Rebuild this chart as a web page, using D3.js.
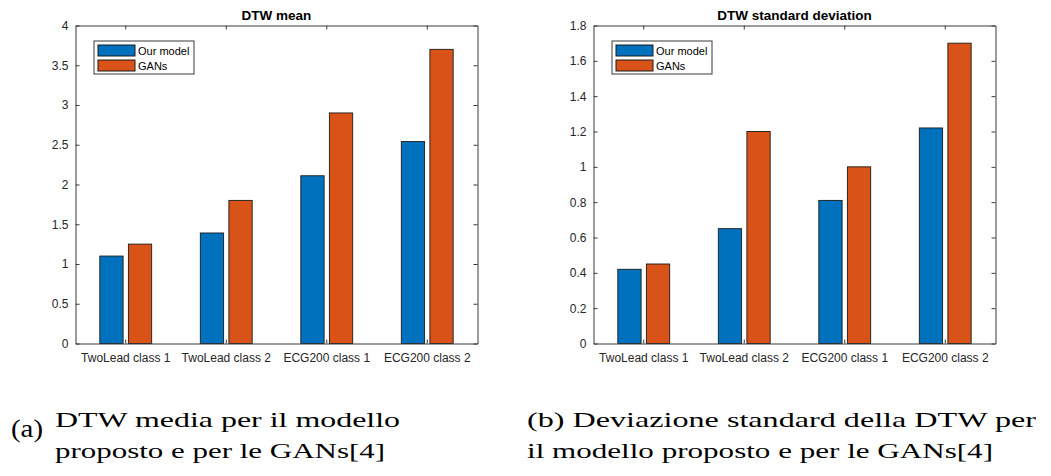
<!DOCTYPE html>
<html>
<head>
<meta charset="utf-8">
<script src="https://cdn.jsdelivr.net/npm/d3@7"></script>
<style>
  html, body { margin: 0; padding: 0; background: #fff; }
  svg { display: block; }
</style>
</head>
<body>
<svg id="fig" width="1051" height="476"></svg>
<script>
// Datasets and series shown in both panels
const categories = ["TwoLead class 1", "TwoLead class 2", "ECG200 class 1", "ECG200 class 2"];
const seriesNames = ["Our model", "GANs"];
const seriesColors = ["#0072BD", "#D95319"];

// Panel (a): mean DTW distance
const meanOurModel = [1.10, 1.39, 2.11, 2.54];
const meanGANs = [1.25, 1.80, 2.90, 3.70];
const meanTicks = [0, 0.5, 1, 1.5, 2, 2.5, 3, 3.5, 4];

// Panel (b): standard deviation of DTW distance
const stdOurModel = [0.42, 0.65, 0.81, 1.22];
const stdGANs = [0.45, 1.20, 1.00, 1.70];
const stdTicks = [0, 0.2, 0.4, 0.6, 0.8, 1, 1.2, 1.4, 1.6, 1.8];

const svg = d3.select("#fig");
const axisColor = "#3a3a3a";
const textColor = "#262626";
const sans = "'Liberation Sans', Arial, Helvetica, sans-serif";
const serif = "'Liberation Serif', 'DejaVu Serif', serif";

function drawPanel(opts) {
  const { left, right, top, bottom, title, values, yMax, ticks } = opts;
  const g = svg.append("g");

  const x = d3.scaleBand().domain(categories).range([left, right]).paddingInner(0).paddingOuter(0);
  const groupW = x.bandwidth() * 0.516;
  const xs = d3.scaleBand().domain(seriesNames).range([-groupW / 2, groupW / 2]).paddingInner(0.185).paddingOuter(0);
  const y = d3.scaleLinear().domain([0, yMax]).range([bottom, top]);

  const rows = categories.map((c, i) => ({ cat: c, vals: seriesNames.map((s, k) => ({ s, k, v: values[k][i] })) }));

  // bars
  g.selectAll("g.grp").data(rows).join("g")
    .attr("class", "grp")
    .attr("transform", d => `translate(${x(d.cat) + x.bandwidth() / 2},0)`)
    .selectAll("rect").data(d => d.vals).join("rect")
    .attr("x", d => xs(d.s))
    .attr("width", xs.bandwidth())
    .attr("y", d => y(d.v))
    .attr("height", d => y(0) - y(d.v))
    .attr("fill", d => seriesColors[d.k])
    .attr("stroke", "#1a1a1a")
    .attr("stroke-width", 0.9);

  // axes (box on, ticks pointing inward)
  const tickLen = 4;
  const axB = d3.axisBottom(x).tickSizeInner(-tickLen).tickSizeOuter(0).tickPadding(10);
  const axT = d3.axisTop(x).tickSizeInner(-tickLen).tickSizeOuter(0).tickFormat("");
  const axL = d3.axisLeft(y).tickValues(ticks).tickSizeInner(-tickLen).tickSizeOuter(0).tickPadding(7).tickFormat(d3.format("~g"));
  const axR = d3.axisRight(y).tickValues(ticks).tickSizeInner(-tickLen).tickSizeOuter(0).tickFormat("");

  const styleAxis = sel => {
    sel.selectAll("path.domain").attr("stroke", axisColor);
    sel.selectAll(".tick line").attr("stroke", axisColor);
    sel.selectAll(".tick text").attr("fill", textColor).style("font-family", sans).style("font-size", "12px");
  };
  g.append("g").attr("transform", `translate(0,${bottom})`).call(axB).call(styleAxis);
  g.append("g").attr("transform", `translate(0,${top})`).call(axT).call(styleAxis);
  g.append("g").attr("transform", `translate(${left},0)`).call(axL).call(styleAxis);
  g.append("g").attr("transform", `translate(${right},0)`).call(axR).call(styleAxis);

  // title
  g.append("text")
    .attr("x", (left + right) / 2).attr("y", 19.5)
    .attr("text-anchor", "middle")
    .style("font-family", sans).style("font-size", "13.5px").style("font-weight", "bold")
    .attr("fill", "#000")
    .text(title);

  // legend
  const lx = left + 18.5, ly = top + 15.5;
  const lg = g.append("g").attr("transform", `translate(${lx},${ly})`);
  lg.append("rect").attr("x", 0).attr("y", 0).attr("width", 100).attr("height", 33)
    .attr("fill", "#fff").attr("stroke", axisColor).attr("stroke-width", 1);
  seriesNames.forEach((s, k) => {
    lg.append("rect").attr("x", 4).attr("y", 4 + k * 15).attr("width", 37).attr("height", 11)
      .attr("fill", seriesColors[k]).attr("stroke", "#1a1a1a").attr("stroke-width", 1);
    lg.append("text").attr("x", 44).attr("y", 14 + k * 15)
      .style("font-family", sans).style("font-size", "11px").attr("fill", "#000")
      .text(s);
  });
}

drawPanel({ left: 75.5, right: 477.5, top: 25.5, bottom: 343.5, title: "DTW mean",
  values: [meanOurModel, meanGANs], yMax: 4, ticks: meanTicks });
drawPanel({ left: 593.5, right: 995.5, top: 25.5, bottom: 343.5, title: "DTW standard deviation",
  values: [stdOurModel, stdGANs], yMax: 1.8, ticks: stdTicks });

// captions
const cap = svg.append("g").style("font-family", serif).style("font-size", "22px").attr("fill", "#000");
const capLine = (x, y, len, txt) => cap.append("text").attr("x", x).attr("y", y)
  .attr("textLength", len).attr("lengthAdjust", "spacingAndGlyphs").text(txt);
capLine(11, 437, 32, "(a)").style("font-size", "25px");
capLine(55, 427, 345, "DTW media per il modello");
capLine(55, 458, 330, "proposto e per le GANs[4]");
capLine(527, 427, 509, "(b) Deviazione standard della DTW per");
capLine(527, 458, 466, "il modello proposto e per le GANs[4]");
</script>
</body>
</html>
